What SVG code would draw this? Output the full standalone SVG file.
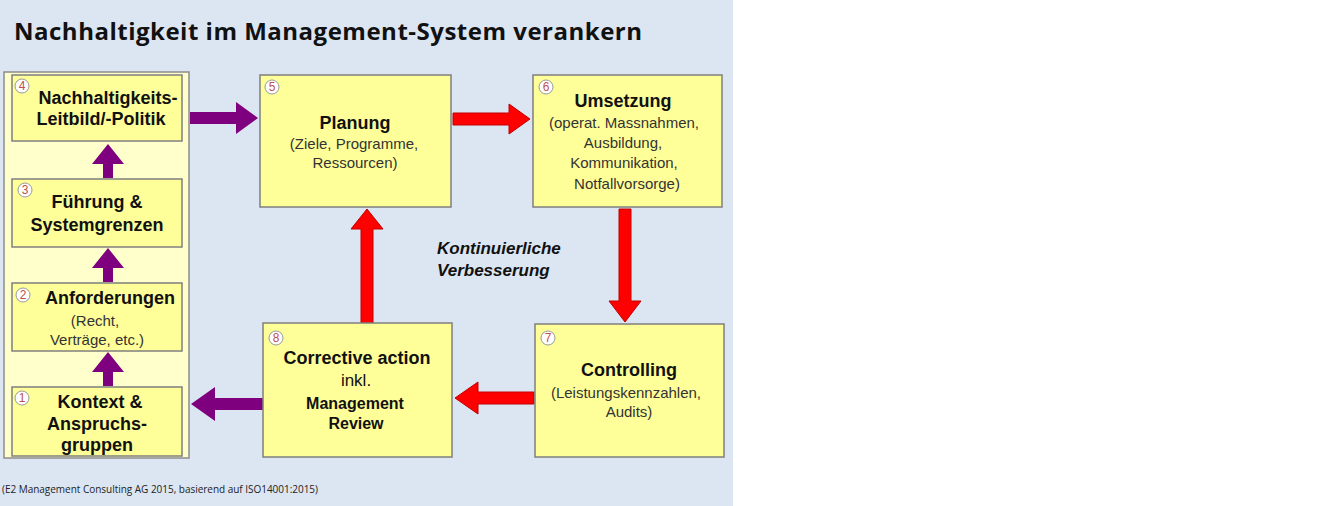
<svg xmlns="http://www.w3.org/2000/svg" width="1320" height="506" viewBox="0 0 1320 506">
<style>
.bx{fill:#ffff99;stroke:#7f7f7f;stroke-width:1.5}
.t{font-family:"Liberation Sans",Arial,sans-serif;fill:#111;text-anchor:middle}
.b{font-weight:bold;font-size:18px}
.n{font-size:15px;fill:#333}
.num{fill:#fff;stroke:#999;stroke-width:1}
.nt{font-family:"Liberation Sans",sans-serif;font-size:12px;fill:#c0504d;text-anchor:middle}
.pu{fill:#7f007f}
.rd{fill:#ff0000;stroke:#c00000;stroke-width:1}
</style>
<rect width="1320" height="506" fill="#fff"/>
<rect width="733" height="506" fill="#dce6f2"/>
<text x="14" y="40" font-family="Open Sans,Liberation Sans,sans-serif" font-weight="bold" font-size="24" fill="#111" textLength="628">Nachhaltigkeit im Management-System verankern</text>
<rect x="4" y="72" width="185" height="386" fill="#ffffcc" stroke="#8c8c8c" stroke-width="1.5"/>
<g id="connectors">
<path class="pu" d="M190 112h46v-10l22 16-22 16v-10h-46z"/>
<path class="pu" d="M103 178v-14h-11l16-20 16 20h-11v14z"/>
<path class="pu" d="M103 282v-14h-11l16-20 16 20h-11v14z"/>
<path class="pu" d="M103 386v-14h-11l16-20 16 20h-11v14z"/>
<path class="pu" d="M263 398h-48v-11l-24 17 24 17v-11h48z"/>
<path class="rd" d="M453 113h56v-9l21 15-21 15v-9h-56z"/>
<path class="rd" d="M619 209v92h-10l16 21 16-21h-10v-92z"/>
<path class="rd" d="M534 392h-56v-10l-23 16 23 16v-10h56z"/>
<path class="rd" d="M361 323v-94h-10l16-20 16 20h-10v94z"/>
</g>
<g id="n4"><rect class="bx" x="12" y="75" width="170" height="66"/><circle class="num" cx="22" cy="86" r="7"/><text class="nt" x="22" y="90">4</text><text class="t b" x="108" y="104">Nachhaltigkeits-</text><text class="t b" x="101" y="125">Leitbild/-Politik</text></g>
<g id="n3"><rect class="bx" x="12" y="179" width="170" height="68"/><circle class="num" cx="25" cy="190" r="7"/><text class="t nt" x="25" y="194">3</text><text class="t b" x="97" y="208">Führung &amp;</text><text class="t b" x="97" y="231">Systemgrenzen</text></g>
<g id="n2"><rect class="bx" x="12" y="283" width="170" height="68"/><circle class="num" cx="23" cy="295" r="7"/><text class="t nt" x="23" y="299">2</text><text class="t b" x="110" y="304">Anforderungen</text><text class="t n" x="95" y="326">(Recht,</text><text class="t n" x="97" y="345">Verträge, etc.)</text></g>
<g id="n1"><rect class="bx" x="12" y="387" width="170" height="69"/><circle class="num" cx="22" cy="398" r="7"/><text class="t nt" x="22" y="402">1</text><text class="t b" x="100" y="408">Kontext &amp;</text><text class="t b" x="97" y="430">Anspruchs-</text><text class="t b" x="97" y="451">gruppen</text></g>
<g id="n5"><rect class="bx" x="260" y="75" width="191" height="132"/><circle class="num" cx="272" cy="87" r="7"/><text class="t nt" x="272" y="91">5</text><text class="t b" x="355" y="129">Planung</text><text class="t n" x="354" y="149">(Ziele, Programme,</text><text class="t n" x="355" y="168">Ressourcen)</text></g>
<g id="n6"><rect class="bx" x="533" y="75" width="189" height="132"/><circle class="num" cx="546" cy="87" r="7"/><text class="t nt" x="546" y="91">6</text><text class="t b" x="623" y="107">Umsetzung</text><text class="t n" x="624" y="128">(operat. Massnahmen,</text><text class="t n" x="623" y="148">Ausbildung,</text><text class="t n" x="624" y="168">Kommunikation,</text><text class="t n" x="627" y="189">Notfallvorsorge)</text></g>
<g id="n7"><rect class="bx" x="535" y="324" width="189" height="133"/><circle class="num" cx="548" cy="338" r="7"/><text class="t nt" x="548" y="342">7</text><text class="t b" x="629" y="376">Controlling</text><text class="t n" x="626" y="398">(Leistungskennzahlen,</text><text class="t n" x="629" y="417">Audits)</text></g>
<g id="n8"><rect class="bx" x="263" y="323" width="189" height="134"/><circle class="num" cx="276" cy="338" r="7"/><text class="t nt" x="276" y="342">8</text><text class="t b" x="357" y="364">Corrective action</text><text class="t" x="356" y="386" font-size="17" fill="#333">inkl.</text><text class="t" x="355" y="409" font-size="16" font-weight="bold">Management</text><text class="t" x="356" y="429" font-size="16" font-weight="bold">Review</text></g>
<text x="437" y="254" font-family="Liberation Sans,sans-serif" font-weight="bold" font-style="italic" font-size="17" fill="#111">Kontinuierliche</text>
<text x="437" y="276" font-family="Liberation Sans,sans-serif" font-weight="bold" font-style="italic" font-size="17" fill="#111">Verbesserung</text>
<text x="2" y="493" font-family="Open Sans,Liberation Sans,sans-serif" font-size="10" fill="#222" textLength="316">(E2 Management Consulting AG 2015, basierend auf ISO14001:2015)</text>
</svg>
